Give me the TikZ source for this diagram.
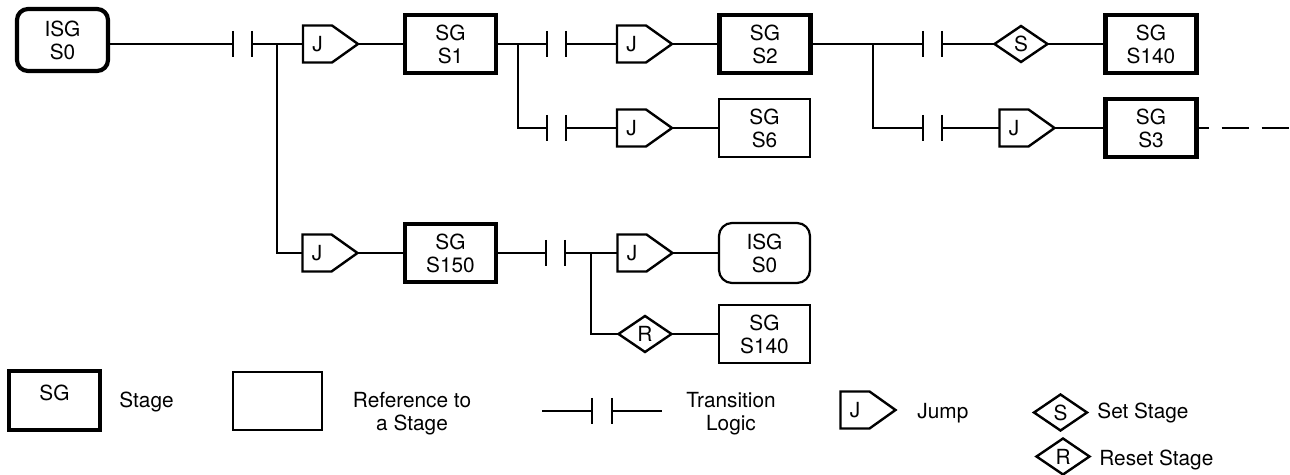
\documentclass[tikz,border=0pt]{standalone}
\usepackage{fontspec}
\setmainfont{TeX Gyre Heros}
\usetikzlibrary{shapes.geometric}
\newcommand\boxfont{\fontsize{10.4}{11.5}\selectfont}
\newcommand\jumpout[1]{\draw[jout] (#1.north west) -- (#1.north east) -- ([xshift=13pt]#1.east) coordinate (#1t) -- (#1.south east) -- (#1.south west) -- cycle;}
\newcommand\contactbars[1]{\draw[cbar] (#1.north west) -- (#1.south west) (#1.north east) -- (#1.south east);}
\tikzset{
  stage/.style={draw, line width=2.1pt, minimum width=45.5pt, minimum height=29pt, inner sep=0pt, outer sep=0pt, align=center, font=\boxfont},
  refbox/.style={draw, line width=1.1pt, minimum width=45.5pt, minimum height=29pt, inner sep=0pt, outer sep=0pt, align=center, font=\boxfont},
  istage/.style={stage, rounded corners=5.5pt, minimum height=31pt},
  iref/.style={refbox, rounded corners=6.5pt, minimum height=30pt},
  contact/.style={minimum width=9.5pt, minimum height=13pt, inner sep=0pt, outer sep=0pt},
  jbody/.style={minimum width=14.5pt, minimum height=18.5pt, inner sep=0pt, outer sep=0pt, font=\boxfont},
  jout/.style={line width=1.2pt, line join=miter},
  setreset/.style={diamond, draw, line width=1.2pt, minimum width=26.5pt, minimum height=18pt, inner sep=0pt, outer sep=0pt, font=\boxfont},
  wire/.style={line width=0.6pt},
  heavy/.style={line width=1.1pt},
  cbar/.style={line width=0.6pt},
  lbl/.style={font=\boxfont, inner sep=0pt},
}
\begin{document}
\begin{tikzpicture}[x=0.5pt,y=-0.5pt]
\useasboundingbox (0,0) rectangle (1290,475);
% ---- top rows
\node[istage] (isg0) at (62.5,40) {ISG\\S0};
\node[contact] (t1) at (242.5,44) {};
\coordinate (b1) at (277,44);
\node[jbody] (j1) at (317.5,44) {J};
\node[stage] (s1) at (450.5,44) {SG\\S1};
\coordinate (b2) at (518,44);
\node[contact] (t2) at (556.5,44) {};
\node[jbody] (j2) at (631.5,44) {J};
\node[stage] (s2) at (765,44) {SG\\S2};
\node[contact] (t3) at (556.5,128) {};
\node[jbody] (j3) at (631.5,128) {J};
\node[refbox] (s6) at (764.5,128) {SG\\S6};
\coordinate (b3) at (873,44);
\node[contact] (t4) at (932.5,44) {};
\node[setreset] (sd) at (1021,44) {S};
\node[stage] (s140a) at (1151,44) {SG\\S140};
\node[contact] (t5) at (932.5,128) {};
\node[jbody] (j4) at (1014,128) {J};
\node[stage] (s3) at (1151,128) {SG\\S3};
\coordinate (dend) at (1290,128);
% ---- S150 row
\node[jbody] (j5) at (317,253) {J};
\node[stage] (s150) at (450.5,253) {SG\\S150};
\node[contact] (t6) at (555.5,253) {};
\coordinate (b4) at (591,253);
\node[jbody] (j6) at (632,253) {J};
\node[iref] (isg0b) at (764.5,253) {ISG\\S0};
\node[setreset] (rd) at (645,334) {R};
\node[refbox] (s140b) at (764.5,334) {SG\\S140};
% ---- symbols
\foreach \n in {j1,j2,j3,j4,j5,j6} {\jumpout{\n}}
\foreach \n in {t1,t2,t3,t4,t5,t6} {\contactbars{\n}}
% ---- connectors
\draw[wire] (isg0.east |- t1.west) -- (t1.west);
\draw[wire] (t1.east) -- (j1.west);
\draw[wire] (b1) |- (j5.west);
\draw[heavy] (j1t) -- (s1.west);
\draw[wire] (s1.east) -- (t2.west);
\draw[wire] (b2) |- (t3.west);
\draw[wire] (t2.east) -- (j2.west);
\draw[wire] (t3.east) -- (j3.west);
\draw[wire] (j2t) -- (s2.west);
\draw[wire] (j3t) -- (s6.west);
\draw[wire] (s2.east) -- (t4.west);
\draw[wire] (b3) |- (t5.west);
\draw[wire] (t4.east) -- (sd.west);
\draw[heavy] (sd.east) -- (s140a.west);
\draw[wire] (t5.east) -- (j4.west);
\draw[heavy] (j4t) -- (s3.west);
\draw[wire, dash pattern=on 13.5pt off 6.5pt, dash phase=7.5pt] (s3.east) -- (dend);
\draw[wire] (j5t) -- (s150.west);
\draw[wire] (s150.east) -- (t6.west);
\draw[wire] (t6.east) -- (j6.west);
\draw[wire] (b4) |- (rd.west);
\draw[wire] (j6t) -- (isg0b.west);
\draw[wire] (rd.east) -- (s140b.west);
% ---- legend
\node[stage, minimum height=29.5pt, label={[anchor=north, inner sep=0pt, yshift=-6.75pt, font=\boxfont]north:SG}] (lstage) at (54.5,400.5) {};
\node[lbl, anchor=base west] (lstagetxt) at (119,408) {Stage};
\node[refbox, minimum width=44.5pt] (lref) at (277.5,401) {};
\node[lbl, align=center] (lreftxt) at (412,414) {Reference to\\a Stage};
\coordinate (tla) at (542,411);
\node[contact, minimum width=10pt] (tl) at (602,411) {};
\coordinate (tlb) at (662,411);
\contactbars{tl}
\draw[wire] (tla) -- (tl.west) (tl.east) -- (tlb);
\node[lbl, align=center] (ltrtxt) at (731,414) {Transition\\Logic};
\node[jbody] (jl) at (855,410) {J};
\jumpout{jl}
\node[lbl, anchor=base west] (ljtxt) at (917,419) {Jump};
\node[setreset] (ls) at (1060.5,412.5) {S};
\node[lbl, anchor=base west] (lstxt) at (1097,418.5) {Set Stage};
\node[setreset] (lr) at (1063,456.5) {R};
\node[lbl, anchor=base west] (lrtxt) at (1099,466) {Reset Stage};
\end{tikzpicture}
\end{document}
